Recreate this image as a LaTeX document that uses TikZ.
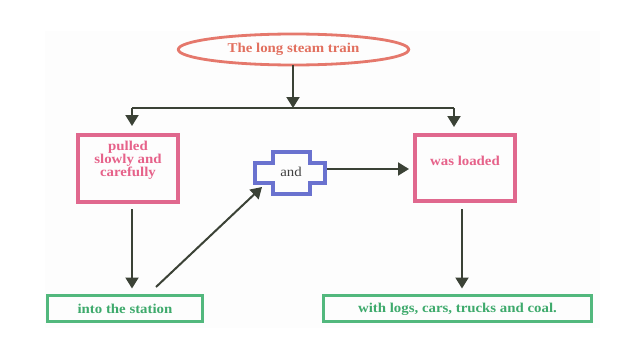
\documentclass[tikz,border=0pt]{standalone}
\usepackage{fontspec}
\setmainfont[FakeStretch=1.1]{Liberation Serif}
\usetikzlibrary{arrows.meta,shapes.geometric,calc}
\definecolor{salmon}{HTML}{E5786C}
\definecolor{salmontxt}{HTML}{E2705F}
\definecolor{pinkc}{HTML}{E0688E}
\definecolor{pinktxt}{HTML}{E6628A}
\definecolor{greenc}{HTML}{52B87D}
\definecolor{greentxt}{HTML}{3EAA6C}
\definecolor{bluec}{HTML}{6A72CF}
\definecolor{arrowc}{HTML}{3B4236}
\definecolor{bgc}{HTML}{FDFDFD}
\tikzset{
  conn/.style={draw=arrowc, line width=2pt},
  arr/.style={conn, -{Triangle[width=13pt,length=11pt]}},
  pinkbox/.style={draw=pinkc, line width=4pt, inner sep=0pt, outer sep=0pt, minimum width=100pt, minimum height=67pt},
  greenbox/.style={draw=greenc, line width=3.3pt, inner sep=0pt, outer sep=0pt, minimum height=26pt},
  boldtxt/.style={font=\fontsize{13.5}{13}\selectfont\bfseries, align=center, inner sep=0pt},
}
\begin{document}
\begin{tikzpicture}[x=1pt,y=-1pt]
\useasboundingbox (0,0) rectangle (629,337);
\fill[bgc] (45,31) rectangle (600,328);
% top ellipse
\node[ellipse, draw=salmon, line width=2.8pt, minimum width=230.5pt, minimum height=31pt, inner sep=0pt, outer sep=0pt,
      boldtxt, text=salmontxt] (ell) at (293.5,49.5) {The long steam train};
% junctions
\coordinate (jc) at (293,108);
\coordinate (jl) at (132,108);
\coordinate (jr) at (454,108);
% pink boxes
\node[pinkbox] (p1) at (128,168.5) {};
\node[pinkbox, minimum height=66pt] (p2) at (465,168) {};
\node[boldtxt, text=pinktxt] (p1t) at (128,160) {pulled\\slowly and\\carefully};
\node[boldtxt, text=pinktxt] (p2t) at (465,161) {was loaded};
% blue cross
\draw[bluec, line width=4pt, line join=miter]
  (272.7,152) -- (309.7,152) -- (309.7,163) -- (324.7,163) -- (324.7,183) -- (309.7,183)
  -- (309.7,194) -- (272.7,194) -- (272.7,183) -- (254.7,183) -- (254.7,163) -- (272.7,163) -- cycle;
\node[font=\fontsize{13.5}{13}\selectfont, text=black!75, inner sep=0pt] (andn) at (291,172) {and};
\coordinate (andR) at (327,169);
\coordinate (andBL) at (262,187);
% green boxes
\node[greenbox, minimum width=155pt] (g1) at (125,308.5) {};
\node[greenbox, minimum width=268pt] (g2) at (457.5,308.5) {};
\node[boldtxt, text=greentxt] (g1t) at (125,309) {into the station};
\node[boldtxt, text=greentxt] (g2t) at (457.5,309) {with logs, cars, trucks and coal.};
\coordinate (dstart) at (156,287);
% connectors
\draw[arr] (ell.south -| jc) -- (jc);
\draw[conn] (jl) -- (jr);
\draw[arr] (jl) -- ($(p1.north -| jl)+(0,-9)$);
\draw[arr] (jr) -- ($(p2.north -| jr)+(0,-8)$);
\draw[arr, shorten >=6pt] (andR) -- (p2.west |- andR);
\draw[arr, shorten <=7pt, shorten >=7pt] (p1.south -| jl) -- (g1.north -| jl);
\draw[arr, shorten <=8pt, shorten >=7pt] ($(p2.south)+(-3,0)$) -- ($(g2.north -| p2.south)+(-3,0)$);
\draw[arr] (dstart) -- (andBL);
\end{tikzpicture}
\end{document}
